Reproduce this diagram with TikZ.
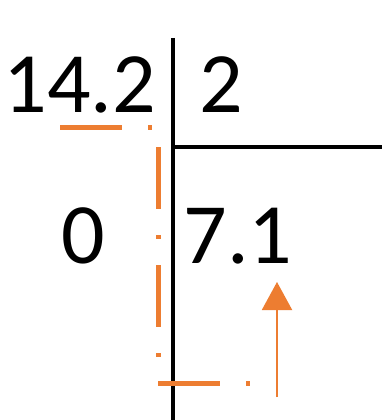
\documentclass[tikz,border=0pt]{standalone}
\usepackage{fontspec}
\setmainfont{Carlito}
\usetikzlibrary{arrows.meta}
\definecolor{orng}{HTML}{ED7D31}
\begin{document}
\begin{tikzpicture}[x=1pt,y=-1pt,
  num/.style={inner sep=0pt,anchor=base,font=\fontsize{86}{90}\selectfont},
  rule/.style={line width=4pt,black},
  guide/.style={orng,line width=5pt,dash pattern=on 62pt off 26pt on 4pt off 26pt},
  pointer/.style={orng,line width=2pt,-{Triangle[width=30pt,length=28pt]}}]
\useasboundingbox[fill=white] (0,0) rectangle (382,420);
% numbers
\node[num] (dividend) at (80,112) {14.2};
\node[num] (divisor) at (221,112) {2};
\node[num] (rem) at (83,263) {0};
\node[num] (quot) at (238,263) {7.1};
% division bracket
\coordinate (vtop) at (173,38);
\coordinate (vbot) at (173,420);
\coordinate (hl) at (173,147);
\coordinate (hr) at (382,147);
\draw[rule] (vtop) -- (vbot);
\draw[rule] (hl) -- (hr);
% orange guide
\coordinate (g1) at (60,127);
\coordinate (g2) at (158,127);
\coordinate (g3) at (158,383);
\coordinate (g4) at (250,383);
\draw[guide] (g1) -- (g2) -- (g3) -- (g4);
% arrow
\coordinate (as) at (277,397);
\coordinate (ae) at (277,282);
\draw[pointer] (as) -- (ae);
\end{tikzpicture}
\end{document}
